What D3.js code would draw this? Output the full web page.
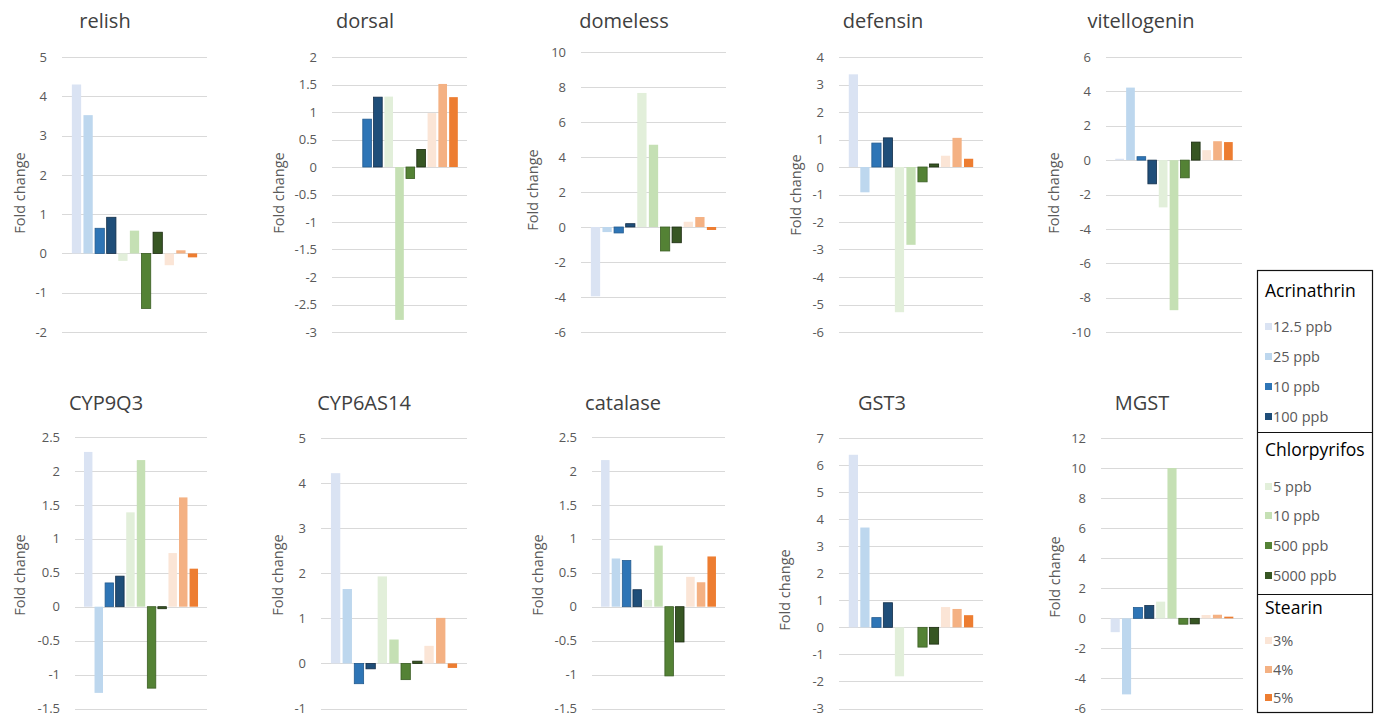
<!DOCTYPE html>
<html><head><meta charset="utf-8">
<script src="https://cdn.jsdelivr.net/npm/d3@7"></script>
<style>
html,body{margin:0;padding:0;background:#fff;overflow:hidden}
text{font-family:"Open Sans","Noto Sans",sans-serif}
</style></head>
<body><svg id="c" width="1380" height="717"></svg>
<script>
// ---- data ----
const genes = ["relish","dorsal","domeless","defensin","vitellogenin","CYP9Q3","CYP6AS14","catalase","GST3","MGST"];
const seriesNames = ["12.5 ppb","25 ppb","10 ppb","100 ppb","5 ppb","10 ppb","500 ppb","5000 ppb","3%","4%","5%"];
const groupNames = ["Acrinathrin","Chlorpyrifos","Stearin"];
const groupSizes = [4,4,3];
const yLabel = "Fold change";

const relish       = [4.30, 3.52, 0.64, 0.92, -0.19, 0.58, -1.40, 0.54, -0.30, 0.08, -0.10];
const dorsal       = [0, 0, 0.87, 1.27, 1.28, -2.78, -0.21, 0.32, 0.98, 1.51, 1.27];
const domeless     = [-3.96, -0.29, -0.34, 0.19, 7.66, 4.70, -1.37, -0.90, 0.30, 0.57, -0.17];
const defensin     = [3.37, -0.92, 0.87, 1.06, -5.28, -2.83, -0.54, 0.11, 0.41, 1.06, 0.30];
const vitellogenin = [0.08, 4.22, 0.20, -1.38, -2.75, -8.73, -1.03, 1.05, 0.58, 1.10, 1.05];
const CYP9Q3       = [2.28, -1.27, 0.35, 0.45, 1.39, 2.16, -1.20, -0.03, 0.79, 1.61, 0.56];
const CYP6AS14     = [4.22, 1.65, -0.45, -0.12, 1.93, 0.53, -0.36, 0.05, 0.39, 1.01, -0.10];
const catalase     = [2.16, 0.71, 0.68, 0.25, 0.10, 0.90, -1.02, -0.52, 0.44, 0.36, 0.74];
const GST3         = [6.38, 3.69, 0.36, 0.91, -1.81, 0, -0.73, -0.62, 0.75, 0.68, 0.45];
const MGST         = [-0.92, -5.06, 0.72, 0.85, 1.11, 10.0, -0.39, -0.37, 0.22, 0.24, 0.11];
const values = [relish, dorsal, domeless, defensin, vitellogenin, CYP9Q3, CYP6AS14, catalase, GST3, MGST];

const ticks = [
  [-2,-1,0,1,2,3,4,5],
  [-3,-2.5,-2,-1.5,-1,-0.5,0,0.5,1,1.5,2],
  [-6,-4,-2,0,2,4,6,8,10],
  [-6,-5,-4,-3,-2,-1,0,1,2,3,4],
  [-10,-8,-6,-4,-2,0,2,4,6],
  [-1.5,-1,-0.5,0,0.5,1,1.5,2,2.5],
  [-1,0,1,2,3,4,5],
  [-1.5,-1,-0.5,0,0.5,1,1.5,2,2.5],
  [-3,-2,-1,0,1,2,3,4,5,6,7],
  [-6,-4,-2,0,2,4,6,8,10,12]
];

// ---- styles / layout ----
const colors = ["#dae3f3","#bdd7ee","#2e75b6","#1f4e79","#e2efda","#c5e0b4","#548235","#375623","#fbe5d6","#f4b183","#ed7d31"];
const strokes = [null,null,"#245c90","#142f4a",null,null,"#3b5e24","#1b2b10",null,null,null];
// [left, right, top, bottom, titleX, titleY, ylabX, ylabY]
const layout = [
  [62,207,57,332,105,28,20,193],
  [332,467,57,332,365,28,279,193],
  [581,726,52,332,624,28,533,190],
  [839,983,57,332,883,28,796,195],
  [1106,1242,57,332,1141,28,1054,193],
  [75,207,437,708.5,106,410,20,575],
  [321,467,438,708.5,364,410,278,575],
  [592,725,437,708.5,623,410,538,575],
  [839,983,438,708.5,882,410,785,590],
  [1101,1243,438,708.5,1142,410,1055,577]
];

const svg = d3.select("#c");

genes.forEach((g, i) => {
  const [l, r, t, b, tx, ty, lx, ly] = layout[i];
  const tv = ticks[i];
  const y = d3.scaleLinear().domain([d3.min(tv), d3.max(tv)]).range([b, t]);
  const x = d3.scaleBand().domain(d3.range(seriesNames.length)).range([l, r]).paddingInner(0.2).paddingOuter(0.85);
  const p = svg.append("g");

  p.selectAll("line.grid").data(tv).enter().append("line")
    .attr("x1", l).attr("x2", r)
    .attr("y1", d => Math.round(y(d)) + 0.5).attr("y2", d => Math.round(y(d)) + 0.5)
    .attr("stroke", "#d9d9d9").attr("stroke-width", 1);

  const ax = d3.axisLeft(y).tickValues(tv).tickSize(0).tickPadding(15).tickFormat(d => String(d));
  const ag = p.append("g").attr("transform", `translate(${l},0)`).call(ax);
  ag.select(".domain").remove();
  ag.selectAll("text").attr("fill", "#595959").style("font-size", "13px").style("font-family", '"Open Sans",sans-serif');

  p.selectAll("rect").data(values[i]).enter().append("rect")
    .attr("x", (d, j) => x(j))
    .attr("width", x.bandwidth())
    .attr("y", d => y(Math.max(0, d)))
    .attr("height", d => Math.abs(y(d) - y(0)))
    .attr("fill", (d, j) => colors[j])
    .attr("stroke", (d, j) => strokes[j] || "none")
    .attr("stroke-width", 0.8);

  p.append("text").attr("x", tx).attr("y", ty).attr("text-anchor", "middle")
    .attr("fill", "#404040").style("font-size", "20px").text(g);

  p.append("text").attr("transform", `translate(${lx + 5},${ly}) rotate(-90)`)
    .attr("text-anchor", "middle").attr("fill", "#595959").style("font-size", "14.5px").text(yLabel);
});

// ---- legend ----
const lg = svg.append("g");
const boxL = 1257, boxR = 1372, boxT = 270, boxB = 712;
lg.append("rect").attr("x", boxL + 0.5).attr("y", boxT + 0.5).attr("width", boxR - boxL).attr("height", boxB - boxT)
  .attr("fill", "#fff").attr("stroke", "#111").attr("stroke-width", 1.2);
const headerY = [297, 456, 614];
const itemY = [[327,357,387,417],[487,516,546,576],[641,670,698]];
const dividers = [432, 594];
dividers.forEach(dy => lg.append("line").attr("x1", boxL).attr("x2", boxR + 0.5).attr("y1", dy + 0.5).attr("y2", dy + 0.5)
  .attr("stroke", "#111").attr("stroke-width", 1.2));
let k = 0;
groupNames.forEach((gn, gi) => {
  lg.append("text").attr("x", 1265).attr("y", headerY[gi]).attr("fill", "#000").style("font-size", "17.5px").text(gn);
  for (let s = 0; s < groupSizes[gi]; s++) {
    const yy = itemY[gi][s];
    lg.append("rect").attr("x", 1265).attr("y", yy - 4).attr("width", 7).attr("height", 7).attr("fill", colors[k]);
    lg.append("text").attr("x", 1273).attr("y", yy).attr("dy", "0.35em").attr("fill", "#595959")
      .style("font-size", "14.5px").text(seriesNames[k]);
    k++;
  }
});
</script></body></html>
